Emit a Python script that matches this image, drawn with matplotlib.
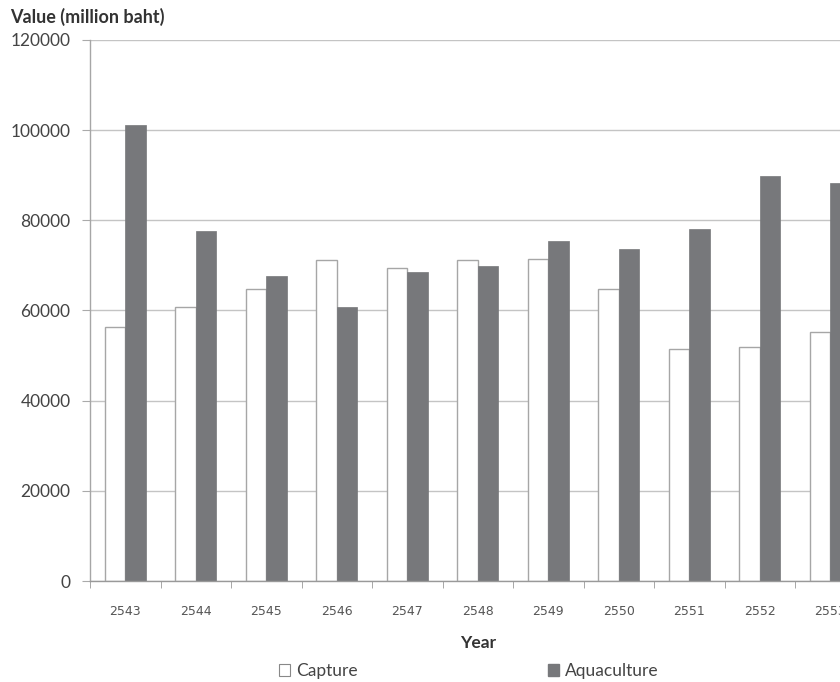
import matplotlib
matplotlib.use("Agg")
import matplotlib.pyplot as plt
import numpy as np
from matplotlib.patches import Rectangle

years = ["2543", "2544", "2545", "2546", "2547", "2548", "2549", "2550", "2551", "2552", "2553"]
capture = [56400, 60700, 64800, 71200, 69400, 71100, 71500, 64700, 51400, 52000, 55200]
aquaculture = [101100, 77700, 67600, 60700, 68500, 69900, 75500, 73700, 78000, 89800, 88200]
yticks = [0, 20000, 40000, 60000, 80000, 100000, 120000]

W, H = 840, 682
fig = plt.figure(figsize=(W / 100, H / 100), dpi=100)
ax = fig.add_axes([90 / W, (H - 581) / H, 775.5 / W, 541 / H])

x = np.arange(len(years))
bw = 0.29
cap_c = "#ffffff"
aq_c = "#77787b"
edge_c = "#a6a6a6"
ax.bar(x - 0.145, capture, width=bw, color=cap_c, edgecolor=edge_c, linewidth=1.0, zorder=3)
ax.bar(x + 0.145, aquaculture, width=bw, color=aq_c, edgecolor=aq_c, linewidth=0.5, zorder=3)

ax.set_xlim(-0.5, len(years) - 0.5)
ax.set_ylim(0, 120000)
ax.set_yticks(yticks)
ax.set_yticklabels([str(v) for v in yticks], family=["Lato", "DejaVu Sans"], fontsize=12.5, color="#444444")
ax.yaxis.grid(True, color="#c4c4c4", linewidth=1.0, zorder=0)

ax.set_xticks(x)
ax.set_xticklabels(years, family=["Liberation Sans Narrow", "DejaVu Sans"], fontsize=9, color="#555555")
ax.set_xticks(np.arange(-0.5, len(years) + 0.5, 1), minor=True)
ax.tick_params(axis="x", which="major", length=0, pad=17)
ax.tick_params(axis="x", which="minor", length=5, color="#999999", direction="out")
ax.tick_params(axis="y", which="major", length=6, color="#aaaaaa", pad=8)

for s in ["top", "right"]:
    ax.spines[s].set_visible(False)
ax.spines["left"].set_color("#a6a6a6")
ax.spines["bottom"].set_color("#999999")
ax.spines["left"].set_linewidth(1.0)
ax.spines["bottom"].set_linewidth(1.0)
ax.spines["bottom"].set_zorder(4)

fig.text(10 / W, 1 - 17 / H, "Value (million baht)", ha="left", va="center",
         family=["Lato", "DejaVu Sans"], fontweight="bold", fontsize=13, color="#333333")
fig.text(478 / W, 1 - 643 / H, "Year", ha="center", va="center",
         family=["Lato", "DejaVu Sans"], fontweight="bold", fontsize=12.5, color="#333333")

labels = ["Capture", "Aquaculture"]
handles = [Rectangle((0, 0), 1, 1, facecolor=cap_c, edgecolor="#888888", linewidth=0.8),
           Rectangle((0, 0), 1, 1, facecolor=aq_c, edgecolor=aq_c)]
anchors = [279, 548]
for h, lab, ax0 in zip(handles, labels, anchors):
    lg = fig.legend([h], [lab], loc="center left",
                    bbox_to_anchor=(ax0 / W, 1 - 671 / H), frameon=False, borderpad=0,
                    borderaxespad=0, handlelength=0.65, handleheight=0.65, handletextpad=0.35,
                    prop={"family": ["Lato", "DejaVu Sans"], "size": 12.5}, labelcolor="#444444")

fig.savefig("out.png", dpi=100)
